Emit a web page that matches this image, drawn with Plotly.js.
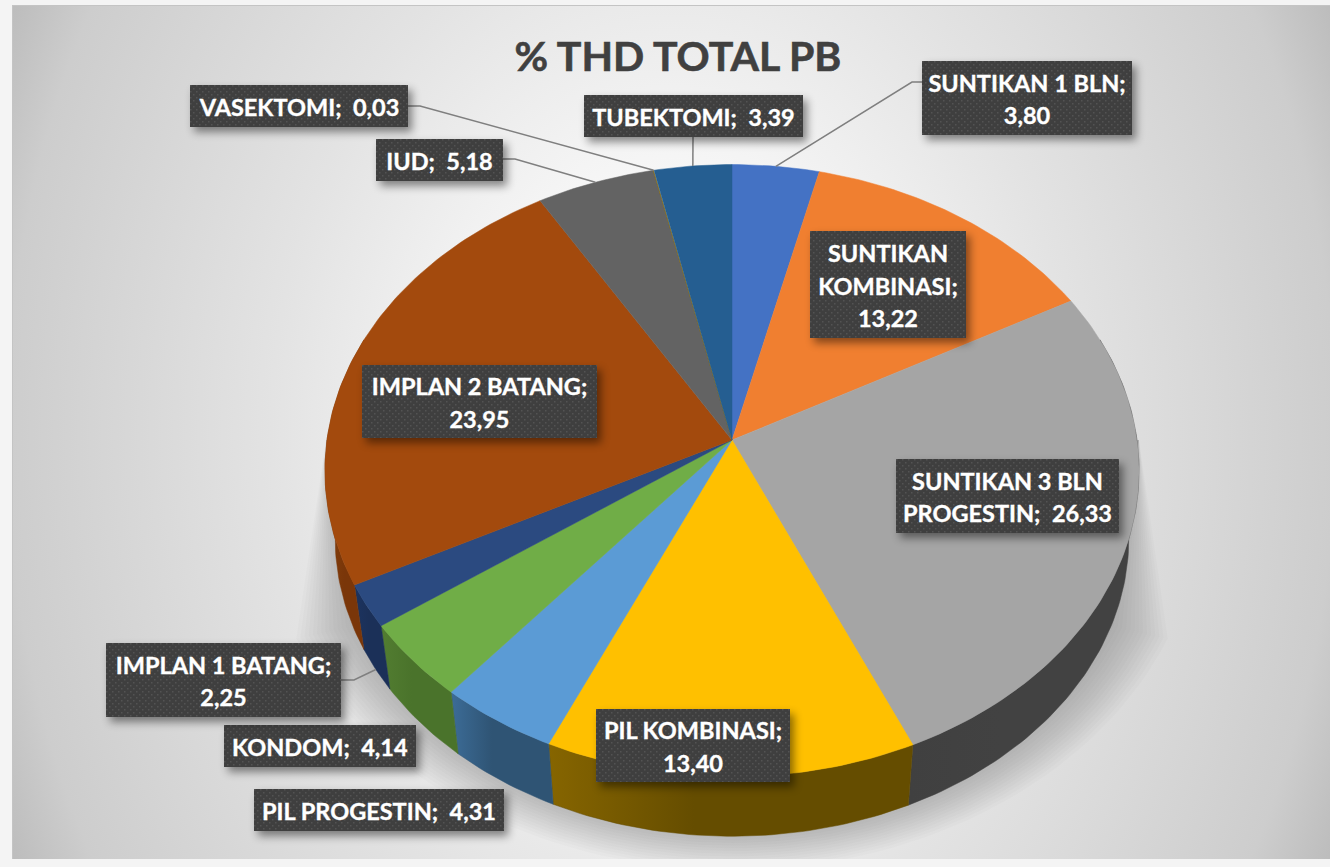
<!DOCTYPE html>
<html>
<head>
<meta charset="utf-8">
<script src="https://cdn.plot.ly/plotly-3.0.1.min.js"></script>
<style>
html,body{margin:0;padding:0;width:1330px;height:867px;overflow:hidden;background:#f4f4f4;}
#bg{position:absolute;left:12px;top:5px;width:1318px;height:854px;border-top:1px solid #c4c4c4;border-left:1px solid #c4c4c4;box-sizing:border-box;
background:radial-gradient(ellipse 800px 1050px at 50% 50%,#ffffff 0%,#f6f6f6 25%,#e3e3e3 50%,#cdcdcd 83%,#bcbcbc 92%);}
#chart{position:absolute;left:0;top:0;width:1330px;height:867px;}
#chart .annotation text{stroke:#ffffff;stroke-width:0.35px;}
#chart .gtitle{stroke:#404040;stroke-width:0.6px;}
</style>
</head>
<body>
<div id="bg"></div>
<div id="chart"></div>
<script>
var categories=["SUNTIKAN 1 BLN","SUNTIKAN KOMBINASI","SUNTIKAN 3 BLN PROGESTIN","PIL KOMBINASI","PIL PROGESTIN","KONDOM","IMPLAN 1 BATANG","IMPLAN 2 BATANG","IUD","VASEKTOMI","TUBEKTOMI"];
var values=[3.80,13.22,26.33,13.40,4.31,4.14,2.25,23.95,5.18,0.03,3.39];
var valueLabels=["3,80","13,22","26,33","13,40","4,31","4,14","2,25","23,95","5,18","0,03","3,39"];
var labelLines=[
 ["SUNTIKAN 1 BLN;","3,80"],
 ["SUNTIKAN","KOMBINASI;","13,22"],
 ["SUNTIKAN 3 BLN","PROGESTIN;\u00A0 26,33"],
 ["PIL KOMBINASI;","13,40"],
 ["PIL PROGESTIN;\u00A0 4,31"],
 ["KONDOM;\u00A0 4,14"],
 ["IMPLAN 1 BATANG;","2,25"],
 ["IMPLAN 2 BATANG;","23,95"],
 ["IUD;\u00A0 5,18"],
 ["VASEKTOMI;\u00A0 0,03"],
 ["TUBEKTOMI;\u00A0 3,39"]
];
var sliceColors=["#4472c4","#f07f30","#a5a5a5","#ffc000","#5b9bd5","#70ad47","#2b4a80","#a34a0d","#636363","#997300","#255e91"];
var wallStart=["#2f5090","#a85820","#404040","#866500","#3c6c97","#527d31","#1c3460","#85400c","#444444","#6b5000","#1a4266"];
var wallEnd=["#2f5090","#a85820","#424242","#654d00","#2f5474","#4a732b","#1b3058","#7a3609","#444444","#6b5000","#1a4266"];
// label boxes: left, right, top, bottom (pixels of the picture)
var labelBoxes=[[922,1132,61,135],[810,966,231,338],[896,1119,459,533],[596,790,709,782],[254,504,789,831],[224,416,725,767],[106,341,643,717],[362,597,365,438],[376,503,139,181],[190,408,85,127],[584,803,95,137]];
// leader lines: elbow polylines ending at the slice rim (index, points)
var leaderSlices=[0,6,8,9,10];
var leaderOnWall=[false,true,false,false,false];
var leaderX=[[922,912],[340,354],[503,515],[408,420],[693,693]];
var leaderY=[[82,82],[680,680],[159,159],[106,106],[137,137]];

var cx=732,cy=440,A=405,B=303,k=0.1,wallScale=0.975,wallDrop=68;
function rim(deg,s,d){
  var t=deg*Math.PI/180,den=1+k*Math.cos(t);
  return [cx+A*s*Math.sin(t)/den, cy+d-B*s*Math.cos(t)/den];
}
var total=values.reduce(function(a,b){return a+b;},0);
var starts=[],run=0;
values.forEach(function(v){starts.push(run/total*360);run+=v;});
var traces=[];

// soft ground shadow: nested translucent outlines
var layers=14;
for(var i=0;i<layers;i++){
  var f=i/(layers-1),Wx=412+58*f,Wy=335+35*f,xs=[1139],ys=[440];
  for(var ang=22;ang<=158;ang+=2){
    var q=ang*Math.PI/180;
    xs.push(cx+Wx*Math.cos(q));ys.push(500+Wy*Math.sin(q));
  }
  xs.push(326);ys.push(440);xs.push(1139);ys.push(440);
  traces.push({type:'scatter',mode:'lines',x:xs,y:ys,fill:'toself',fillcolor:'rgba(0,0,0,0.017)',line:{width:0},hoverinfo:'skip',showlegend:false});
}

// side walls
values.forEach(function(v,i){
  var a0=Math.max(starts[i],70),a1=Math.min(starts[i]+v/total*360,290);
  if(a1<=a0)return;
  var n=Math.max(2,Math.ceil(a1-a0)),xs=[],ys=[],j,p;
  for(j=0;j<=n;j++){p=rim(a0+(a1-a0)*j/n,1,0);xs.push(p[0]);ys.push(p[1]);}
  for(j=n;j>=0;j--){p=rim(a0+(a1-a0)*j/n,wallScale,wallDrop);xs.push(p[0]);ys.push(p[1]);}
  xs.push(xs[0]);ys.push(ys[0]);
  traces.push({type:'scatter',mode:'lines',x:xs,y:ys,fill:'toself',name:categories[i],
    fillgradient:{type:'horizontal',colorscale:[[0,wallStart[i]],[0.4,wallEnd[i]],[1,wallEnd[i]]]},
    line:{width:0.5,color:wallEnd[i]},hoverinfo:'skip',showlegend:false});
});

// top faces
values.forEach(function(v,i){
  var a0=starts[i],a1=a0+v/total*360,n=Math.max(2,Math.ceil(a1-a0)),xs=[cx],ys=[cy];
  for(var j=0;j<=n;j++){var p=rim(a0+(a1-a0)*j/n,1,0);xs.push(p[0]);ys.push(p[1]);}
  xs.push(cx);ys.push(cy);
  traces.push({type:'scatter',mode:'lines',x:xs,y:ys,fill:'toself',fillcolor:sliceColors[i],name:categories[i],
    line:{width:0.5,color:sliceColors[i]},text:valueLabels[i],hoverinfo:'name+text',showlegend:false});
});

// leader lines
leaderSlices.forEach(function(s,i){
  var mid=starts[s]+values[s]/total*180;
  var p=leaderOnWall[i]?rim(mid,wallScale,wallDrop):rim(mid,1,0);
  traces.push({type:'scatter',mode:'lines',x:leaderX[i].concat([p[0]]),y:leaderY[i].concat([p[1]]),
    line:{width:1.5,color:'#7f7f7f'},hoverinfo:'skip',showlegend:false});
});

var annotations=labelBoxes.map(function(b,i){
  return {x:(b[0]+b[1])/2,y:(b[2]+b[3])/2,xref:'x',yref:'y',xanchor:'center',yanchor:'middle',
    text:labelLines[i].join('<br>'),showarrow:false,width:b[1]-b[0],height:b[3]-b[2],borderpad:0,borderwidth:0,
    bgcolor:'#3f3f3f',align:'center',valign:'middle',
    font:{family:'Lato, "Open Sans", sans-serif',size:23.5,color:'#ffffff',weight:700}};
});

var layout={
  width:1330,height:867,margin:{l:12,r:0,t:5,b:8,pad:0},
  paper_bgcolor:'rgba(0,0,0,0)',plot_bgcolor:'rgba(0,0,0,0)',
  title:{text:'% THD TOTAL PB',x:672/1330,xanchor:'center',xref:'paper',y:1-57/867,yanchor:'middle',
    font:{family:'Lato, "Open Sans", sans-serif',size:41,color:'#404040',weight:700}},
  xaxis:{range:[12,1330],visible:false,fixedrange:true},
  yaxis:{range:[859,5],visible:false,fixedrange:true},
  showlegend:false,annotations:annotations
};
Plotly.newPlot('chart',traces,layout,{displayModeBar:false}).then(function(gd){
  var svg=gd.querySelector('svg.main-svg'),ns='http://www.w3.org/2000/svg';
  var defs=svg.querySelector('defs');
  var pat=document.createElementNS(ns,'pattern');
  pat.setAttribute('id','labelDots');pat.setAttribute('width','6');pat.setAttribute('height','6');pat.setAttribute('patternUnits','userSpaceOnUse');
  [['0','0','6','6','#3f3f3f'],['0','0','1.5','1.5','#535353'],['3','3','1.5','1.5','#535353']].forEach(function(c){
    var r=document.createElementNS(ns,'rect');
    r.setAttribute('x',c[0]);r.setAttribute('y',c[1]);r.setAttribute('width',c[2]);r.setAttribute('height',c[3]);r.setAttribute('fill',c[4]);
    pat.appendChild(r);
  });
  defs.appendChild(pat);
  gd.querySelectorAll('.annotation rect.bg').forEach(function(r){
    r.style.fill='url(#labelDots)';
    r.style.fillOpacity='1';
    r.style.filter='drop-shadow(4px 5px 4px rgba(0,0,0,0.45))';
  });
  // widen the line spacing of the label text to that of the reference
  gd.querySelectorAll('.annotation text').forEach(function(t){
    var lines=t.querySelectorAll('tspan.line');
    var n=lines.length;
    t.setAttribute('transform',(t.getAttribute('transform')||'')+' translate(0,1)');
    lines.forEach(function(l,i){
      var y=parseFloat(l.getAttribute('y'));
      if(!isNaN(y))l.setAttribute('y',y+(i-(n-1)/2)*2);
    });
  });
});
</script>
</body>
</html>
